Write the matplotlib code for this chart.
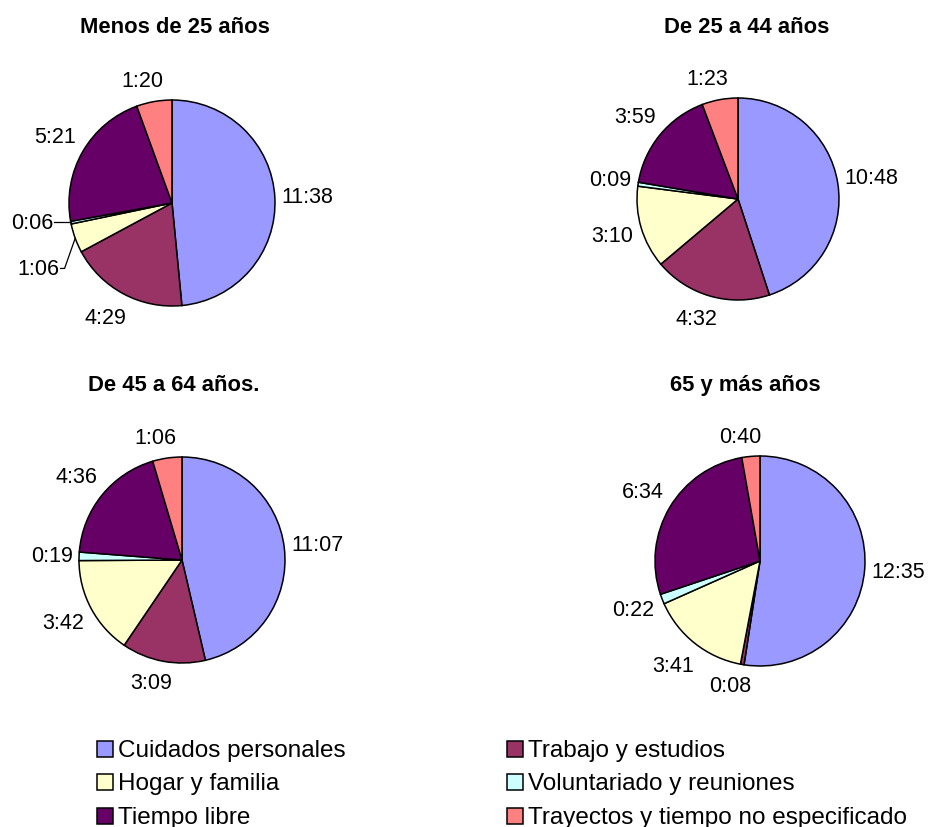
import matplotlib
matplotlib.use("Agg")
import matplotlib.pyplot as plt
from matplotlib.patches import Rectangle
import numpy as np

plt.rcParams['font.family'] = ['Liberation Sans', 'DejaVu Sans']

# ---------------- data (minutes per day) ----------------
categories = ["Cuidados personales", "Trabajo y estudios", "Hogar y familia",
              "Voluntariado y reuniones", "Tiempo libre",
              "Trayectos y tiempo no especificado"]
colors = ["#9999FF", "#993366", "#FFFFCC", "#CCFFFF", "#660066", "#FF8080"]
groups = ["Menos de 25 años", "De 25 a 44 años", "De 45 a 64 años.", "65 y más años"]
menos_25 = [698, 269, 66, 6, 321, 80]      # 11:38 4:29 1:06 0:06 5:21 1:20
de_25_44 = [648, 272, 190, 9, 239, 83]     # 10:48 4:32 3:10 0:09 3:59 1:23
de_45_64 = [667, 189, 222, 19, 276, 66]    # 11:07 3:09 3:42 0:19 4:36 1:06
mas_65 = [755, 8, 221, 22, 394, 40]        # 12:35 0:08 3:41 0:22 6:34 0:40
series = [menos_25, de_25_44, de_45_64, mas_65]


def hhmm(m):
    return f"{m // 60}:{m % 60:02d}"


# ---------------- layout (pixels) ----------------
W, H = 930, 828
fig = plt.figure(figsize=(W / 100, H / 100), dpi=100)
ax = fig.add_axes([0, 0, 1, 1])

# cx, cy (from top), radius, title x, title baseline (from top)
layout = [(172, 204, 103, 175, 33),
          (738, 200, 101, 747, 33),
          (182, 561, 103, 174, 391),
          (760, 562, 105, 745, 391)]

label_fs = 15.5
title_fs = 15.8
gap = 6
extra = {(0, 2): (-8, -20), (0, 3): (-10, 6)}
leaders = {(0, 2), (0, 3)}

renderer = fig.canvas.get_renderer()

for gi, (vals, (cx, cy, r, tx, ty)) in enumerate(zip(series, layout)):
    cyd = H - cy
    wedges, _ = ax.pie(vals, colors=colors, startangle=90, counterclock=False,
                       center=(cx, cyd), radius=r, frame=True,
                       wedgeprops=dict(edgecolor="black", linewidth=1.1))
    for ci, (w, v) in enumerate(zip(wedges, vals)):
        mid = np.deg2rad((w.theta1 + w.theta2) / 2)
        dx, dy = np.cos(mid), np.sin(mid)
        t = ax.text(0, 0, hhmm(v), fontsize=label_fs, ha="center", va="center")
        bb = t.get_window_extent(renderer)
        tw, th = bb.width, bb.height
        dist = r + gap + abs(dx) * tw / 2 + abs(dy) * 12
        x = cx + dx * dist - 10 * (1 - abs(dx))
        y = cyd + dy * dist
        ox, oy = extra.get((gi, ci), (0, 0))
        x += ox
        y += oy
        t.set_position((x, y))
        if (gi, ci) in leaders:
            ex, ey = cx + dx * r, cyd + dy * r
            xr = x + tw / 2 + 1
            if abs(ey - y) < 6:
                ax.plot([xr, ex], [y, y], color="black", lw=0.9)
            else:
                ax.plot([xr, xr + 4, ex], [y, y, ey], color="black", lw=0.9)
    ax.text(tx, H - ty, groups[gi], fontsize=title_fs, fontweight="bold",
            ha="center", va="baseline")

# ---------------- legend (two columns, row-major) ----------------
leg_x = [97, 507]
leg_y = [750, 783, 817]
msz = 16
for i, (cat, col) in enumerate(zip(categories, colors)):
    row, c = divmod(i, 2)
    mx, my = leg_x[c], H - leg_y[row]
    ax.add_patch(Rectangle((mx, my - msz / 2), msz, msz, facecolor=col,
                           edgecolor="black", linewidth=1.1))
    ax.text(mx + msz + 5, my - 1, cat, fontsize=17.5, ha="left", va="center")

ax.set_xlim(0, W)
ax.set_ylim(0, H)
ax.set_aspect("equal")
ax.axis("off")

fig.savefig("out.png", dpi=100, facecolor="white")
